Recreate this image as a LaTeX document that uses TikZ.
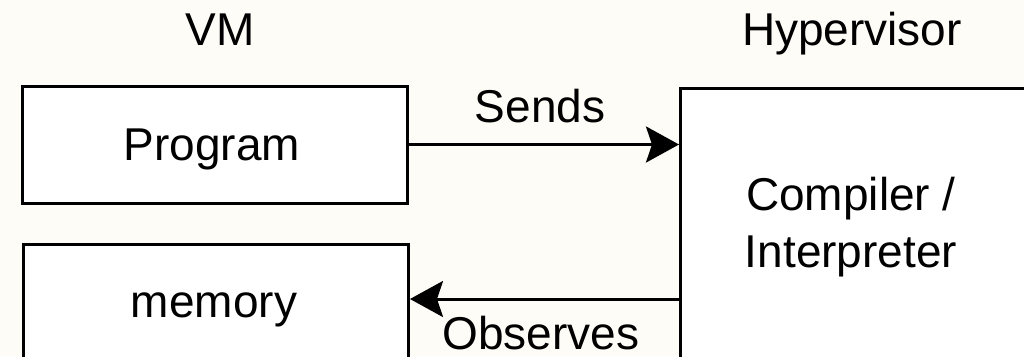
\documentclass[tikz,border=0pt]{standalone}
\usepackage{fontspec}
\setmainfont{Liberation Sans}
\usetikzlibrary{arrows.meta,calc}
\definecolor{paper}{HTML}{FDFCF7}
\begin{document}
\begin{tikzpicture}[x=1pt,y=-1pt,
  box/.style={draw=black,line width=3pt,fill=white,rectangle,inner sep=0pt},
  lbl/.style={inner sep=0pt,anchor=base,font=\fontsize{46}{58}\selectfont},
  conn/.style={line width=3pt,-{Stealth[length=33pt,width=36pt,inset=6pt]}}]
  % canvas
  \fill[paper] (0,0) rectangle (1024,356);
  \useasboundingbox (0,0) rectangle (1024,356);
  \clip (0,0) rectangle (1024,356);
  % column titles
  \node[lbl] (vm) at (220,45) {VM};
  \node[lbl] (hvt) at (852,45) {Hypervisor};
  % boxes
  \node[box,minimum width=385pt,minimum height=117pt] (prog) at (214.5,144.5) {};
  \node[lbl] (progtxt) at (212,160) {Program};
  \node[box,minimum width=385pt,minimum height=140pt,anchor=north west] (mem) at (22,243) {};
  \node[lbl] (memtxt) at (214,317) {memory};
  \node[box,minimum width=400pt,minimum height=300pt,anchor=north west] (hyp) at (679,87) {};
  \node[lbl] (comp1) at (851,210) {Compiler /};
  \node[lbl] (comp2) at (851,267) {Interpreter};
  % connectors
  \draw[conn] (prog.east) -- (prog.east -| hyp.west);
  \node[lbl] (sends) at (540,122) {Sends};
  \coordinate (obs) at ($(hyp.west |- 0,299)$);
  \draw[conn] (obs) -- (obs -| mem.east);
  \node[lbl] (observes) at (541,349) {Observes};
\end{tikzpicture}
\end{document}
